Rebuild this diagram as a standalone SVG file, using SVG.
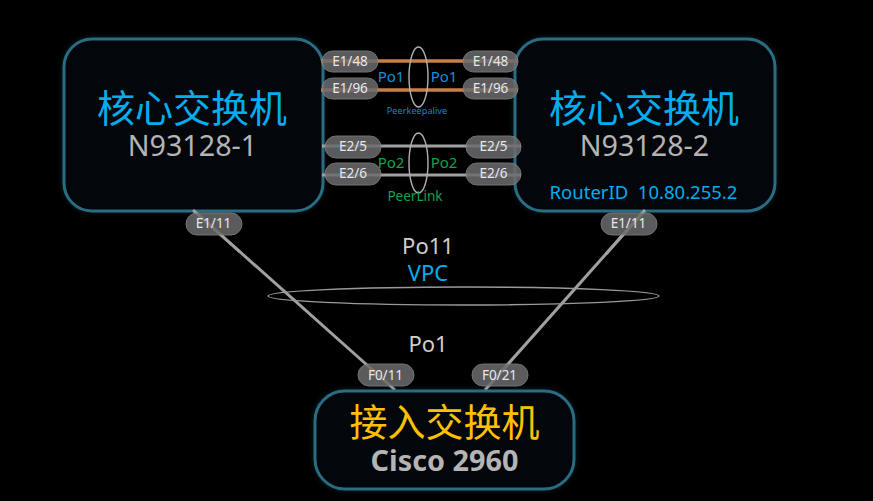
<svg xmlns="http://www.w3.org/2000/svg" width="873" height="501" viewBox="0 0 873 501">
<defs>
<filter id="glow" x="-10%" y="-10%" width="120%" height="120%"><feGaussianBlur stdDeviation="2.5"/></filter>
</defs>
<style>
text{font-family:"Noto Sans","Noto Sans CJK SC",sans-serif;text-anchor:middle}
.box{fill:#03060a;stroke:#2a6d82;stroke-width:3}
.halo{fill:none;stroke:#2a6d82;stroke-width:4;opacity:.3;filter:url(#glow)}
.pill{fill:#6c6c6e;stroke:#858587;stroke-width:1;opacity:.85}
.pt{fill:#e8e8e8;font-size:13.500px}
.h{fill:#00aeef;font-size:38px;font-family:"Noto Sans CJK SC",sans-serif}
.m{fill:#b4b4b4;font-size:28.700px}
.or{stroke:#c87f45;stroke-width:3.5;fill:none}
.gr{stroke:#a0a0a0;stroke-width:3;fill:none}
.ring{fill:none;stroke:#b0b0b0;stroke-width:1.400}
.b{fill:#0a94d8;font-size:15px}
.g{fill:#0ea44a;font-size:15px}
.w{fill:#cfcfcf;font-size:22px}
</style>
<rect width="873" height="501" fill="#000"/>
<g id="connectors">
<path class="gr" d="M193 210L395 390M645 210L485 390"/>
</g>
<g id="node-core1"><rect class="halo" x="64" y="39" width="259" height="172" rx="28"/><rect class="box" x="64" y="39" width="259" height="172" rx="28"/><text class="h" x="192" y="122">核心交换机</text><text class="m" x="192.500" y="156">N93128-1</text></g>
<g id="node-core2"><rect class="halo" x="515" y="39" width="260" height="172" rx="28"/><rect class="box" x="515" y="39" width="260" height="172" rx="28"/><text class="h" x="644" y="122">核心交换机</text><text class="m" x="644.500" y="156">N93128-2</text><text x="643.500" y="199" style="fill:#00aeef;font-size:18.500px;white-space:pre">RouterID  10.80.255.2</text></g>
<g id="node-access"><rect class="halo" x="315" y="391" width="259" height="98" rx="30"/><rect class="box" x="315" y="391" width="259" height="98" rx="30"/><text x="444.500" y="436" style="fill:#ffc000;font-size:38px;font-family:'Noto Sans CJK SC',sans-serif">接入交换机</text><text x="444.500" y="471" style="fill:#b4b4b4;font-size:28.800px;font-weight:700">Cisco 2960</text></g>
<g id="links">
<path class="or" d="M321 61H518M321 90H518"/>
<path class="gr" d="M322 146H521M322 175H521"/>
<path class="gr" d="M193 210L240 252M645 210L606 254"/>
</g>
<g id="rings">
<ellipse class="ring" cx="418.500" cy="77" rx="9.500" ry="30"/>
<ellipse class="ring" cx="418.500" cy="163" rx="9.500" ry="30"/>
<ellipse class="ring" cx="463.500" cy="296" rx="195.500" ry="9" style="stroke:#9a9a9a"/>
</g>
<g id="ports">
<g id="p1"><rect class="pill" x="322" y="51" width="56" height="21" rx="10.500"/><text class="pt" x="350" y="66">E1/48</text></g>
<g id="p2"><rect class="pill" x="322" y="78" width="56" height="21" rx="10.500"/><text class="pt" x="350" y="93">E1/96</text></g>
<g id="p3"><rect class="pill" x="325" y="136" width="56" height="22" rx="11"/><text class="pt" x="353" y="151">E2/5</text></g>
<g id="p4"><rect class="pill" x="325" y="163" width="56" height="22" rx="11"/><text class="pt" x="353" y="178">E2/6</text></g>
<g id="p5"><rect class="pill" x="463" y="51" width="55" height="21" rx="10.500"/><text class="pt" x="490.500" y="66">E1/48</text></g>
<g id="p6"><rect class="pill" x="463" y="78" width="55" height="21" rx="10.500"/><text class="pt" x="490.500" y="93">E1/96</text></g>
<g id="p7"><rect class="pill" x="466" y="136" width="55" height="22" rx="11"/><text class="pt" x="493.500" y="151">E2/5</text></g>
<g id="p8"><rect class="pill" x="466" y="163" width="55" height="22" rx="11"/><text class="pt" x="493.500" y="178">E2/6</text></g>
<g id="p9"><rect class="pill" x="186" y="213" width="56" height="22" rx="11"/><text class="pt" x="213.500" y="228">E1/11</text></g>
<g id="p10"><rect class="pill" x="601" y="213" width="56" height="22" rx="11"/><text class="pt" x="628.500" y="228">E1/11</text></g>
<g id="p11"><rect class="pill" x="358" y="364" width="56" height="22" rx="11"/><text class="pt" x="385.500" y="380">F0/11</text></g>
<g id="p12"><rect class="pill" x="472" y="364" width="56" height="22" rx="11"/><text class="pt" x="499.500" y="380">F0/21</text></g>
</g>
<g id="labels">
<text class="b" x="391" y="82">Po1</text><text class="b" x="444" y="82">Po1</text>
<text x="417" y="114" style="fill:#0a88c8;font-size:9.200px">Peerkeepalive</text>
<text class="g" x="391" y="168">Po2</text><text class="g" x="444" y="168">Po2</text>
<text x="415" y="201" style="fill:#0ea44a;font-size:13.500px">PeerLink</text>
<text class="w" x="428" y="254">Po11</text>
<text x="428" y="281" style="fill:#00aeef;font-size:22px">VPC</text>
<text class="w" x="428" y="352">Po1</text>
</g>
</svg>
